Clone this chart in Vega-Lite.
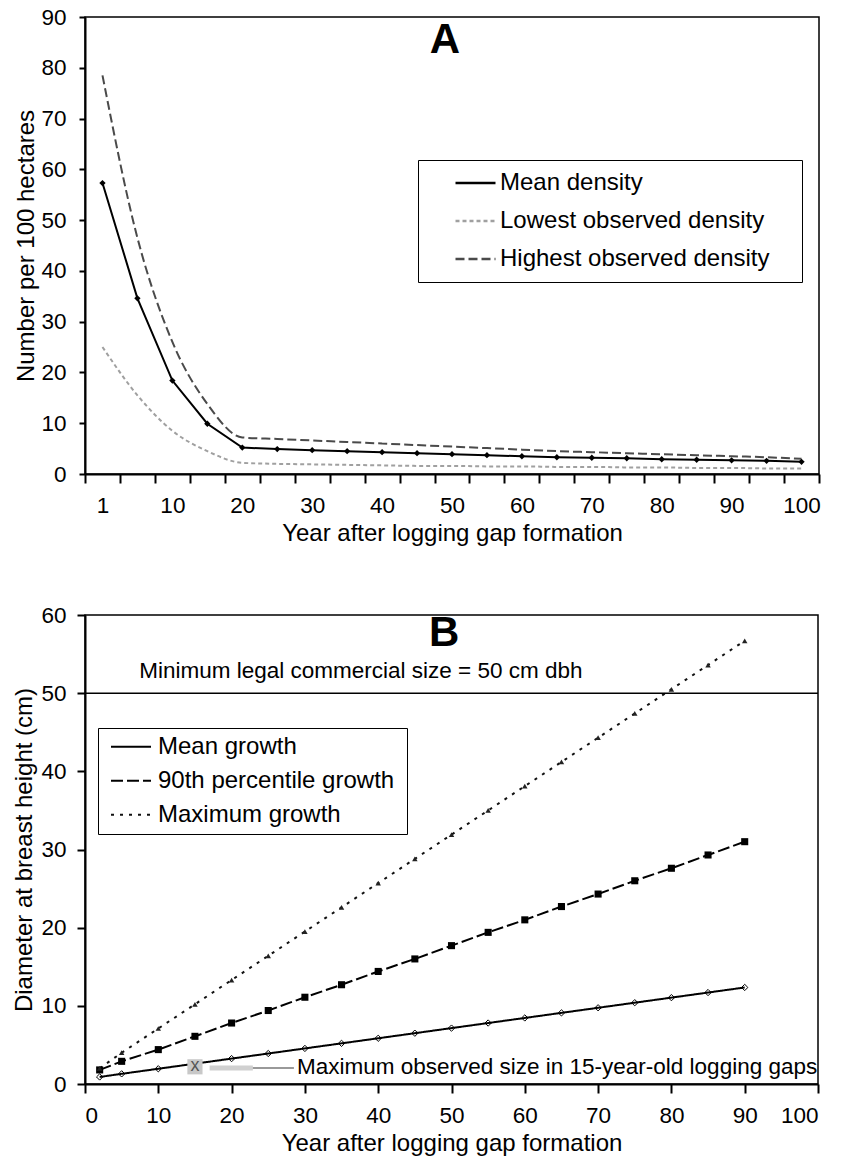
{
  "$schema": "https://vega.github.io/schema/vega-lite/v6.json",
  "padding": {"left": 12, "top": 5, "right": 5, "bottom": 3},
  "spacing": 56,
  "resolve": {"scale": {"color": "independent", "strokeDash": "independent"}, "legend": {"color": "independent", "strokeDash": "independent"}},
  "config": {
    "view": {"stroke": "black", "strokeWidth": 1.5},
    "axis": {
      "grid": false, "domainColor": "black", "domainWidth": 2, "tickColor": "black", "tickWidth": 2,
      "labelFont": "Liberation Sans", "labelFontSize": 22.5, "labelColor": "black",
      "titleFont": "Liberation Sans", "titleFontSize": 24, "titleFontWeight": "normal", "titleColor": "black",
      "labelOverlap": false
    },
    "legend": {"labelFont": "Liberation Sans", "labelColor": "black", "titleColor": "white", "titleFontSize": 24, "titleFont": "Liberation Sans", "titleOrient": "right"},
    "text": {"font": "Liberation Sans", "color": "black"}
  },
  "datasets": {
    "densA": [
      {"year": 1, "density": "Mean density", "value": 57.3},
      {"year": 5, "density": "Mean density", "value": 34.6},
      {"year": 10, "density": "Mean density", "value": 18.4},
      {"year": 15, "density": "Mean density", "value": 9.9},
      {"year": 20, "density": "Mean density", "value": 5.2},
      {"year": 25, "density": "Mean density", "value": 4.9},
      {"year": 30, "density": "Mean density", "value": 4.7},
      {"year": 35, "density": "Mean density", "value": 4.5},
      {"year": 40, "density": "Mean density", "value": 4.3},
      {"year": 45, "density": "Mean density", "value": 4.1},
      {"year": 50, "density": "Mean density", "value": 3.9},
      {"year": 55, "density": "Mean density", "value": 3.7},
      {"year": 60, "density": "Mean density", "value": 3.5},
      {"year": 65, "density": "Mean density", "value": 3.3},
      {"year": 70, "density": "Mean density", "value": 3.2},
      {"year": 75, "density": "Mean density", "value": 3.1},
      {"year": 80, "density": "Mean density", "value": 2.9},
      {"year": 85, "density": "Mean density", "value": 2.8},
      {"year": 90, "density": "Mean density", "value": 2.7},
      {"year": 95, "density": "Mean density", "value": 2.6},
      {"year": 100, "density": "Mean density", "value": 2.4},
      {"year": 1, "density": "Lowest observed density", "value": 25.0},
      {"year": 5, "density": "Lowest observed density", "value": 15.5},
      {"year": 10, "density": "Lowest observed density", "value": 8.5},
      {"year": 15, "density": "Lowest observed density", "value": 4.5},
      {"year": 20, "density": "Lowest observed density", "value": 2.2},
      {"year": 25, "density": "Lowest observed density", "value": 2.0},
      {"year": 30, "density": "Lowest observed density", "value": 1.9},
      {"year": 35, "density": "Lowest observed density", "value": 1.8},
      {"year": 40, "density": "Lowest observed density", "value": 1.7},
      {"year": 45, "density": "Lowest observed density", "value": 1.6},
      {"year": 50, "density": "Lowest observed density", "value": 1.6},
      {"year": 55, "density": "Lowest observed density", "value": 1.5},
      {"year": 60, "density": "Lowest observed density", "value": 1.5},
      {"year": 65, "density": "Lowest observed density", "value": 1.4},
      {"year": 70, "density": "Lowest observed density", "value": 1.4},
      {"year": 75, "density": "Lowest observed density", "value": 1.3},
      {"year": 80, "density": "Lowest observed density", "value": 1.3},
      {"year": 85, "density": "Lowest observed density", "value": 1.2},
      {"year": 90, "density": "Lowest observed density", "value": 1.2},
      {"year": 95, "density": "Lowest observed density", "value": 1.1},
      {"year": 100, "density": "Lowest observed density", "value": 1.1},
      {"year": 1, "density": "Highest observed density", "value": 78.5},
      {"year": 5, "density": "Highest observed density", "value": 46.5},
      {"year": 10, "density": "Highest observed density", "value": 26.0},
      {"year": 15, "density": "Highest observed density", "value": 13.8},
      {"year": 20, "density": "Highest observed density", "value": 7.2},
      {"year": 25, "density": "Highest observed density", "value": 6.9},
      {"year": 30, "density": "Highest observed density", "value": 6.6},
      {"year": 35, "density": "Highest observed density", "value": 6.3},
      {"year": 40, "density": "Highest observed density", "value": 6.0},
      {"year": 45, "density": "Highest observed density", "value": 5.7},
      {"year": 50, "density": "Highest observed density", "value": 5.4},
      {"year": 55, "density": "Highest observed density", "value": 5.1},
      {"year": 60, "density": "Highest observed density", "value": 4.8},
      {"year": 65, "density": "Highest observed density", "value": 4.5},
      {"year": 70, "density": "Highest observed density", "value": 4.3},
      {"year": 75, "density": "Highest observed density", "value": 4.1},
      {"year": 80, "density": "Highest observed density", "value": 3.9},
      {"year": 85, "density": "Highest observed density", "value": 3.7},
      {"year": 90, "density": "Highest observed density", "value": 3.5},
      {"year": 95, "density": "Highest observed density", "value": 3.3},
      {"year": 100, "density": "Highest observed density", "value": 3.0}
    ],
    "growthB": [
      {"year": 2, "growth": "Mean growth", "value": 0.9},
      {"year": 5, "growth": "Mean growth", "value": 1.3},
      {"year": 10, "growth": "Mean growth", "value": 1.95},
      {"year": 15, "growth": "Mean growth", "value": 2.6},
      {"year": 20, "growth": "Mean growth", "value": 3.25},
      {"year": 25, "growth": "Mean growth", "value": 3.9},
      {"year": 30, "growth": "Mean growth", "value": 4.55},
      {"year": 35, "growth": "Mean growth", "value": 5.2},
      {"year": 40, "growth": "Mean growth", "value": 5.85},
      {"year": 45, "growth": "Mean growth", "value": 6.5},
      {"year": 50, "growth": "Mean growth", "value": 7.15},
      {"year": 55, "growth": "Mean growth", "value": 7.8},
      {"year": 60, "growth": "Mean growth", "value": 8.45},
      {"year": 65, "growth": "Mean growth", "value": 9.1},
      {"year": 70, "growth": "Mean growth", "value": 9.75},
      {"year": 75, "growth": "Mean growth", "value": 10.4},
      {"year": 80, "growth": "Mean growth", "value": 11.05},
      {"year": 85, "growth": "Mean growth", "value": 11.7},
      {"year": 90, "growth": "Mean growth", "value": 12.35},
      {"year": 2, "growth": "90th percentile growth", "value": 1.8},
      {"year": 5, "growth": "90th percentile growth", "value": 2.9},
      {"year": 10, "growth": "90th percentile growth", "value": 4.4},
      {"year": 15, "growth": "90th percentile growth", "value": 6.1},
      {"year": 20, "growth": "90th percentile growth", "value": 7.8},
      {"year": 25, "growth": "90th percentile growth", "value": 9.4},
      {"year": 30, "growth": "90th percentile growth", "value": 11.1},
      {"year": 35, "growth": "90th percentile growth", "value": 12.7},
      {"year": 40, "growth": "90th percentile growth", "value": 14.4},
      {"year": 45, "growth": "90th percentile growth", "value": 16.0},
      {"year": 50, "growth": "90th percentile growth", "value": 17.7},
      {"year": 55, "growth": "90th percentile growth", "value": 19.4},
      {"year": 60, "growth": "90th percentile growth", "value": 21.0},
      {"year": 65, "growth": "90th percentile growth", "value": 22.7},
      {"year": 70, "growth": "90th percentile growth", "value": 24.3},
      {"year": 75, "growth": "90th percentile growth", "value": 26.0},
      {"year": 80, "growth": "90th percentile growth", "value": 27.6},
      {"year": 85, "growth": "90th percentile growth", "value": 29.3},
      {"year": 90, "growth": "90th percentile growth", "value": 31.0},
      {"year": 2, "growth": "Maximum growth", "value": 2.0},
      {"year": 5, "growth": "Maximum growth", "value": 4.0},
      {"year": 10, "growth": "Maximum growth", "value": 7.1},
      {"year": 15, "growth": "Maximum growth", "value": 10.2},
      {"year": 20, "growth": "Maximum growth", "value": 13.3},
      {"year": 25, "growth": "Maximum growth", "value": 16.4},
      {"year": 30, "growth": "Maximum growth", "value": 19.5},
      {"year": 35, "growth": "Maximum growth", "value": 22.6},
      {"year": 40, "growth": "Maximum growth", "value": 25.7},
      {"year": 45, "growth": "Maximum growth", "value": 28.8},
      {"year": 50, "growth": "Maximum growth", "value": 31.9},
      {"year": 55, "growth": "Maximum growth", "value": 35.0},
      {"year": 60, "growth": "Maximum growth", "value": 38.1},
      {"year": 65, "growth": "Maximum growth", "value": 41.2},
      {"year": 70, "growth": "Maximum growth", "value": 44.3},
      {"year": 75, "growth": "Maximum growth", "value": 47.4},
      {"year": 80, "growth": "Maximum growth", "value": 50.5},
      {"year": 85, "growth": "Maximum growth", "value": 53.6},
      {"year": 90, "growth": "Maximum growth", "value": 56.7}
    ],
    "annot": [
      {"year": 15, "value": 2.2, "label": "Maximum observed size in 15-year-old logging gaps"}
    ]
  },
  "vconcat": [
    {
      "width": 734,
      "height": 457,
      "layer": [
        {
          "data": {"name": "densA"},
          "transform": [{"filter": "datum.density !== 'Mean density'"}],
          "mark": {"type": "line", "interpolate": "monotone", "strokeWidth": 2},
          "encoding": {
            "x": {
              "field": "year", "type": "ordinal",
              "scale": {"type": "band", "paddingInner": 0, "paddingOuter": 0},
              "axis": {
                "title": "Year after logging gap formation", "tickBand": "extent", "labelAngle": 0,
                "labelExpr": "(datum.value == 1 || datum.value % 10 == 0) ? datum.label : ''",
                "tickSize": 9, "labelPadding": 11, "titlePadding": 5
              }
            },
            "y": {
              "field": "value", "type": "quantitative",
              "scale": {"domain": [0, 90], "nice": false},
              "axis": {"title": "Number per 100 hectares", "values": [0, 10, 20, 30, 40, 50, 60, 70, 80, 90], "tickSize": 6, "labelPadding": 13, "titlePadding": 2}
            },
            "color": {
              "field": "density", "type": "nominal",
              "scale": {"domain": ["Mean density", "Lowest observed density", "Highest observed density"], "range": ["#000000", "#a0a0a0", "#4a4a4a"]},
              "legend": {
                "title": ".", "titlePadding": 22, "orient": "none", "legendX": 333, "legendY": 143,
                "strokeColor": "black", "fillColor": "white", "padding": 4,
                "symbolType": "stroke", "symbolSize": 1600, "symbolStrokeWidth": 2.5,
                "clipHeight": 38, "rowPadding": 0, "symbolOffset": 32, "labelOffset": 3,
                "labelFontSize": 24, "labelLimit": 600
              }
            },
            "strokeDash": {
              "field": "density", "type": "nominal",
              "scale": {"domain": ["Mean density", "Lowest observed density", "Highest observed density"], "range": [[1, 0], [4, 3], [9, 4]]},
              "legend": {
                "title": ".", "titlePadding": 22, "orient": "none", "legendX": 333, "legendY": 143,
                "strokeColor": "black", "fillColor": "white", "padding": 4,
                "symbolType": "stroke", "symbolSize": 1600, "symbolStrokeWidth": 2.5,
                "clipHeight": 38, "rowPadding": 0, "symbolOffset": 32, "labelOffset": 3,
                "labelFontSize": 24, "labelLimit": 600
              }
            }
          }
        },
        {
          "data": {"name": "densA"},
          "transform": [{"filter": "datum.density === 'Mean density'"}],
          "mark": {"type": "line", "color": "black", "strokeWidth": 2},
          "encoding": {
            "x": {"field": "year", "type": "ordinal"},
            "y": {"field": "value", "type": "quantitative"}
          }
        },
        {
          "data": {"name": "densA"},
          "transform": [{"filter": "datum.density === 'Mean density'"}],
          "mark": {"type": "point", "shape": "diamond", "filled": true, "color": "black", "size": 40, "opacity": 1},
          "encoding": {
            "x": {"field": "year", "type": "ordinal"},
            "y": {"field": "value", "type": "quantitative"}
          }
        },
        {
          "data": {"values": [{}]},
          "mark": {"type": "text", "text": "A", "fontSize": 42, "fontWeight": "bold", "align": "center", "baseline": "alphabetic", "dx": -7},
          "encoding": {
            "x": {"datum": 50, "type": "ordinal"},
            "y": {"datum": 82.9, "type": "quantitative"}
          }
        }
      ]
    },
    {
      "width": 733,
      "height": 469,
      "layer": [
        {
          "data": {"name": "growthB"},
          "mark": {"type": "line", "strokeWidth": 2},
          "encoding": {
            "x": {
              "field": "year", "type": "quantitative",
              "scale": {"domain": [0, 100], "nice": false},
              "axis": {
                "title": "Year after logging gap formation",
                "values": [0, 5, 10, 15, 20, 25, 30, 35, 40, 45, 50, 55, 60, 65, 70, 75, 80, 85, 90, 95, 100],
                "labelExpr": "datum.value % 10 == 0 ? datum.label : ''",
                "tickSize": 9, "labelPadding": 11, "titlePadding": 5
              }
            },
            "y": {
              "field": "value", "type": "quantitative",
              "scale": {"domain": [0, 60], "nice": false},
              "axis": {"title": "Diameter at breast height (cm)", "values": [0, 10, 20, 30, 40, 50, 60], "tickSize": 8, "labelPadding": 11, "titlePadding": 4}
            },
            "color": {
              "field": "growth", "type": "nominal",
              "scale": {"domain": ["Mean growth", "90th percentile growth", "Maximum growth"], "range": ["#000000", "#000000", "#111111"]},
              "legend": {
                "title": ".", "titlePadding": 4, "orient": "none", "legendX": 13, "legendY": 113,
                "strokeColor": "black", "fillColor": "white", "padding": 2,
                "symbolType": "stroke", "symbolSize": 1600, "symbolStrokeWidth": 2,
                "clipHeight": 33.5, "rowPadding": 0, "symbolOffset": 10, "labelOffset": 6,
                "labelFontSize": 24, "labelLimit": 600
              }
            },
            "strokeDash": {
              "field": "growth", "type": "nominal",
              "scale": {"domain": ["Mean growth", "90th percentile growth", "Maximum growth"], "range": [[1, 0], [12, 4], [3, 6]]},
              "legend": {
                "title": ".", "titlePadding": 4, "orient": "none", "legendX": 13, "legendY": 113,
                "strokeColor": "black", "fillColor": "white", "padding": 2,
                "symbolType": "stroke", "symbolSize": 1600, "symbolStrokeWidth": 2,
                "clipHeight": 33.5, "rowPadding": 0, "symbolOffset": 10, "labelOffset": 6,
                "labelFontSize": 24, "labelLimit": 600
              }
            }
          }
        },
        {
          "data": {"values": [{}]},
          "mark": {"type": "rule", "color": "black", "strokeWidth": 1.5},
          "encoding": {"y": {"datum": 50, "type": "quantitative"}}
        },
        {
          "data": {"values": [{}]},
          "mark": {"type": "text", "text": "Minimum legal commercial size = 50 cm dbh", "fontSize": 22.5, "align": "left", "baseline": "alphabetic"},
          "encoding": {
            "x": {"datum": 7.4, "type": "quantitative"},
            "y": {"datum": 51.9, "type": "quantitative"}
          }
        },
        {
          "data": {"name": "growthB"},
          "transform": [{"filter": "datum.growth === 'Mean growth'"}],
          "mark": {"type": "point", "shape": "diamond", "filled": false, "color": "black", "strokeWidth": 1, "size": 40, "opacity": 1},
          "encoding": {
            "x": {"field": "year", "type": "quantitative"},
            "y": {"field": "value", "type": "quantitative"}
          }
        },
        {
          "data": {"name": "growthB"},
          "transform": [{"filter": "datum.growth === '90th percentile growth'"}],
          "mark": {"type": "point", "shape": "square", "filled": true, "color": "black", "size": 50, "opacity": 1},
          "encoding": {
            "x": {"field": "year", "type": "quantitative"},
            "y": {"field": "value", "type": "quantitative"}
          }
        },
        {
          "data": {"name": "growthB"},
          "transform": [{"filter": "datum.growth === 'Maximum growth'"}],
          "mark": {"type": "point", "shape": "triangle-up", "filled": true, "color": "#222222", "size": 30, "opacity": 1},
          "encoding": {
            "x": {"field": "year", "type": "quantitative"},
            "y": {"field": "value", "type": "quantitative"}
          }
        },
        {
          "data": {"values": [{}]},
          "mark": {"type": "rule", "color": "#d0d0d0", "strokeWidth": 5},
          "encoding": {
            "x": {"datum": 17.0, "type": "quantitative"},
            "x2": {"datum": 22.9},
            "y": {"datum": 2.05, "type": "quantitative"}
          }
        },
        {
          "data": {"values": [{}]},
          "mark": {"type": "rule", "color": "#777777", "strokeWidth": 1.5},
          "encoding": {
            "x": {"datum": 22.9, "type": "quantitative"},
            "x2": {"datum": 28.5},
            "y": {"datum": 2.05, "type": "quantitative"}
          }
        },
        {
          "data": {"name": "annot"},
          "mark": {"type": "point", "shape": "square", "filled": true, "color": "#c8c8c8", "size": 230, "opacity": 1},
          "encoding": {
            "x": {"field": "year", "type": "quantitative"},
            "y": {"field": "value", "type": "quantitative"}
          }
        },
        {
          "data": {"name": "annot"},
          "mark": {"type": "text", "text": "x", "fontSize": 18, "color": "#555555", "align": "center", "baseline": "middle", "dy": -1},
          "encoding": {
            "x": {"field": "year", "type": "quantitative"},
            "y": {"field": "value", "type": "quantitative"}
          }
        },
        {
          "data": {"name": "annot"},
          "mark": {"type": "text", "fontSize": 22.5, "align": "left", "baseline": "middle", "dx": 102},
          "encoding": {
            "x": {"field": "year", "type": "quantitative"},
            "y": {"field": "value", "type": "quantitative"},
            "text": {"field": "label"}
          }
        },
        {
          "data": {"values": [{}]},
          "mark": {"type": "text", "text": "B", "fontSize": 42, "fontWeight": "bold", "align": "center", "baseline": "alphabetic"},
          "encoding": {
            "x": {"datum": 49, "type": "quantitative"},
            "y": {"datum": 56.0, "type": "quantitative"}
          }
        }
      ]
    }
  ]
}
